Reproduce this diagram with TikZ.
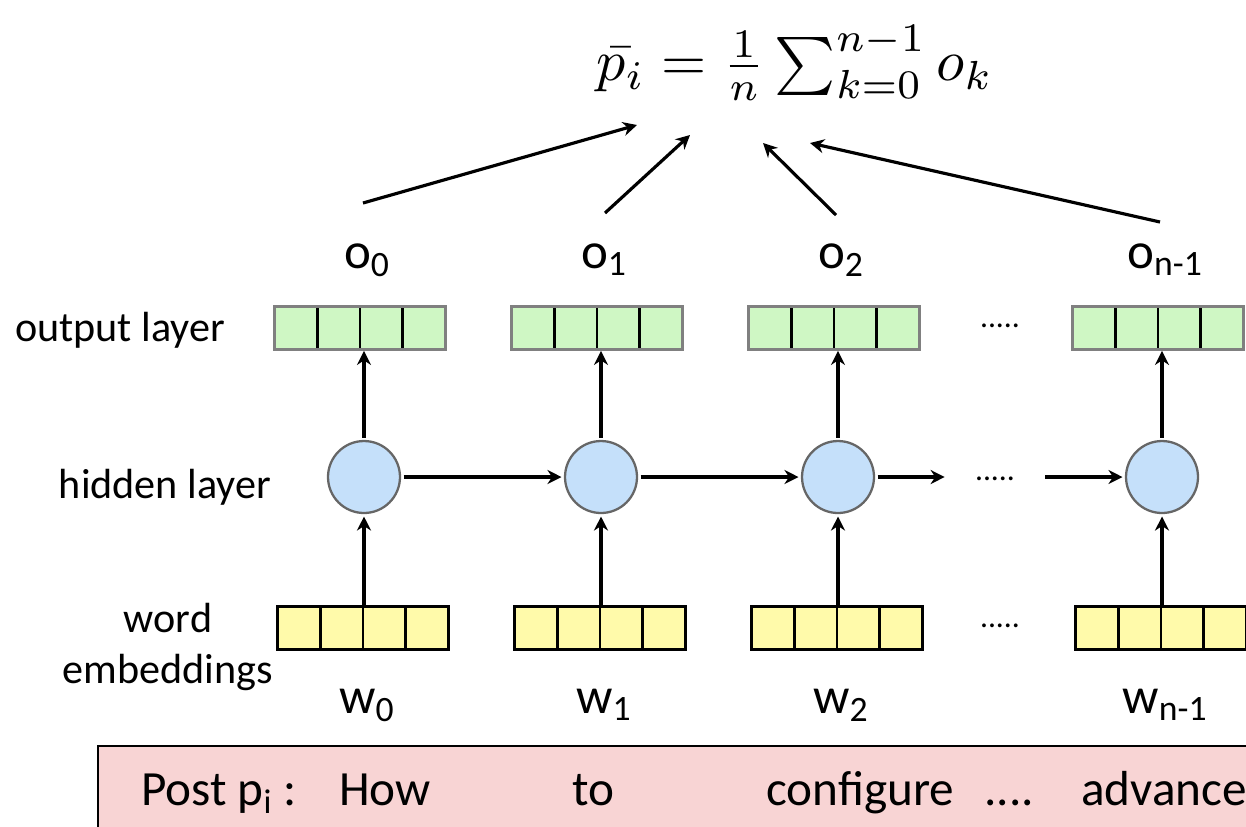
\documentclass[tikz,border=0pt]{standalone}
\usepackage{amsmath}
\usepackage{fontspec}
\setmainfont{Carlito}
\usetikzlibrary{arrows.meta,positioning,calc}
\definecolor{outgreen}{RGB}{207,247,196}
\definecolor{embyellow}{RGB}{255,250,170}
\definecolor{hidblue}{RGB}{197,224,250}
\definecolor{postpink}{RGB}{248,212,212}

\begin{document}
\begin{tikzpicture}[x=0.02cm, y=-0.02cm, >={Stealth[length=8pt,width=8pt]},
  cellbox/.style={rectangle, minimum width=3.42cm, minimum height=0.86cm,
    line width=1.6pt, inner sep=0pt,
    path picture={\foreach \k in {1,2,3}
      \draw[black, line width=1.6pt]
        ($(path picture bounding box.south west)!\k/4!(path picture bounding box.south east)$) --
        ($(path picture bounding box.north west)!\k/4!(path picture bounding box.north east)$);}},
  outcells/.style={cellbox, draw=black!50, fill=outgreen},
  embcells/.style={cellbox, draw=black, fill=embyellow},
  hidunit/.style={circle, draw=black!60, fill=hidblue, line width=1.3pt,
    minimum size=1.44cm, inner sep=0pt, outer sep=2pt},
  flow/.style={->, line width=1.8pt},
  lbl/.style={font=\fontsize{24}{28.5}\selectfont},
  tok/.style={font=\fontsize{29}{34}\selectfont},
  posttok/.style={font=\fontsize{28}{32}\selectfont, anchor=base west},
  dotrow/.style={font=\fontsize{18}{20}\selectfont, inner sep=0pt}]
  \clip (0,0) rectangle (1246,826);

  \node[scale=3.3] (avg) at (795,63) {$\bar{p_i} = \frac{1}{n}\sum_{k=0}^{n-1} o_k$};

  \node[lbl] (outlbl) at (120,330) {output layer};
  \node[lbl] (hidlbl) at (165,487) {hidden layer};
  \node[lbl, align=center] (emblbl) at (168,647) {word\\embeddings};

  \foreach \i/\c/\s in {0/364/0, 1/601/1, 2/838/2, 3/1162/n-1} {
    \node[outcells] (out\i) at (\c-4,328) {};
    \node[hidunit] (hid\i) at (\c,477) {};
    \node[embcells] (emb\i) at (\c-1,628) {};
    \node[tok, anchor=base] (o\i) at (\c+3,268) {o$_{\text{\s}}$};
    \node[tok, anchor=base] (w\i) at (\c+3,713) {w$_{\text{\s}}$};
    \draw[flow] (emb\i.north -| hid\i) -- (hid\i.south);
    \draw[flow] (hid\i.north) -- (hid\i.north |- out\i.south);
  }

  \node[dotrow] (outdots) at (1000,326) {.....};
  \node[dotrow] (embdots) at (1000,626) {.....};
  \node[dotrow, minimum width=2cm] (hiddots) at (995,479) {.....};

  \draw[flow] (hid0) -- (hid1);
  \draw[flow] (hid1) -- (hid2);
  \draw[flow] (hid2.east) -- (hiddots.west |- hid2.east);
  \draw[flow] (hiddots.east |- hid3.west) -- (hid3.west);

  \coordinate (t0) at (363,203);
  \coordinate (t1) at (605,213);
  \coordinate (t2) at (836,215);
  \coordinate (t3) at (1160,222);
  \coordinate (h0) at (637,125);
  \coordinate (h1) at (690,135);
  \coordinate (h2) at (763,143);
  \coordinate (h3) at (810,143);
  \foreach \i in {0,...,3}
    \draw[flow] (t\i) -- (h\i);

  \node[draw=black, fill=postpink, line width=1.2pt, anchor=north west,
    minimum width=23.6cm, minimum height=2cm] (postbar) at (97,745) {};
  \node[posttok] (wpost) at (135,805) {Post p$_{\text{i}}$ :};
  \node[posttok] (whow) at (333,805) {How};
  \node[posttok] (wto) at (566,805) {to};
  \node[posttok] (wconf) at (760,805) {configure};
  \node[posttok] (wdots) at (978,805) {....};
  \node[posttok] (wadv) at (1075,805) {advance};
\end{tikzpicture}
\end{document}
